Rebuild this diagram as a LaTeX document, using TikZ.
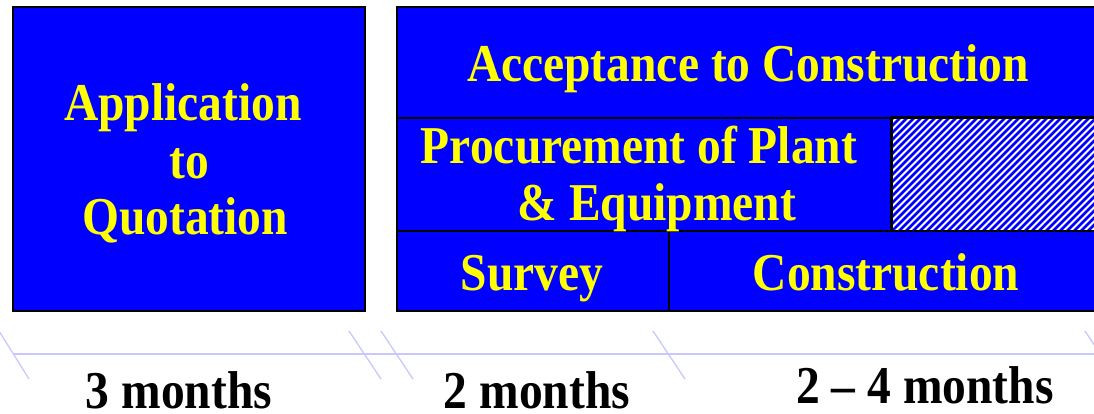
\documentclass[tikz,border=0pt]{standalone}
\usepackage{fontspec}
\setmainfont{Liberation Serif}
\usepackage{graphicx}
\definecolor{boxblue}{RGB}{0,0,255}
\definecolor{txtyellow}{RGB}{255,255,0}
\definecolor{tline}{RGB}{200,200,255}
\newcommand{\vstr}[1]{\scalebox{1}[1.12]{#1}}
\begin{document}
\begin{tikzpicture}[x=1pt,y=-1pt,
  blockbox/.style={draw=black, fill=boxblue, line width=2pt, inner sep=0pt, rectangle},
  lbl/.style={anchor=base, inner sep=0pt, text=txtyellow, font=\fontsize{47.5}{57}\selectfont\bfseries},
  tlbl/.style={anchor=base, inner sep=0pt, text=black, font=\fontsize{47.5}{57}\selectfont\bfseries},
  tick/.style={draw=tline, line width=1.3pt}]
\useasboundingbox (0,0) rectangle (1094,413);
\begin{scope}
\clip (0,0) rectangle (1094,413);
% boxes
\node[blockbox, minimum width=352pt, minimum height=304pt] (app) at (189,159) {};
\node[blockbox, minimum width=703pt, minimum height=111pt] (accept) at (748.5,62.5) {};
\node[blockbox, minimum width=495pt, minimum height=113pt] (procure) at (644.5,174.5) {};
\node[blockbox, fill=white, minimum width=208pt, minimum height=113pt,
  path picture={\foreach \k in {-18,...,32}
    \draw[boxblue, line width=2.6pt] ([xshift=\k*7pt]path picture bounding box.south west) -- ++(130pt,130pt);}] (hatch) at (996,174.5) {};
\draw[black, line width=2pt] (hatch.north west) rectangle (hatch.south east);
\node[blockbox, minimum width=272pt, minimum height=80pt] (survey) at (533,271) {};
\node[blockbox, minimum width=431pt, minimum height=80pt] (constr) at (884.5,271) {};
% labels
\node[lbl] (l1) at (183,120) {\vstr{Application}};
\node[lbl] (l2) at (189,178) {\vstr{to}};
\node[lbl] (l3) at (185,234) {\vstr{Quotation}};
\node[lbl] (l4) at (748,81) {\vstr{Acceptance to Construction}};
\node[lbl] (l5) at (639,163) {\vstr{Procurement of Plant}};
\node[lbl] (l6) at (657,220) {\vstr{\& Equipment}};
\node[lbl] (l7) at (532,290) {\vstr{Survey}};
\node[lbl] (l8) at (886,290) {\vstr{Construction}};
% timeline
\coordinate (ta) at (13,354);
\coordinate (tb) at (1094,354);
\draw[tick] (ta) -- (tb);
\draw[tick] (-1,331) -- (29,379);
\draw[tick] (349,331) -- (381,379);
\draw[tick] (381,331) -- (413,379);
\draw[tick] (653,331) -- (685,379);
\draw[tick] (1085,331) -- (1117,379);
\node[tlbl] (m1) at (179,408) {\vstr{3 months}};
\node[tlbl] (m2) at (537,408) {\vstr{2 months}};
\node[tlbl] (m3) at (925,403) {\vstr{2 -- 4 months}};
\end{scope}
\end{tikzpicture}
\end{document}
